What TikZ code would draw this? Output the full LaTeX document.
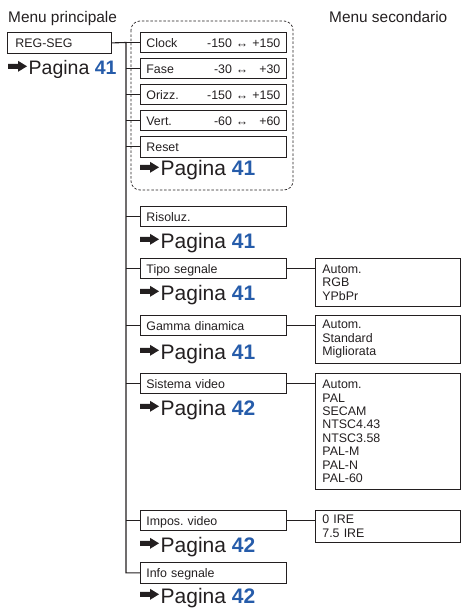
\documentclass[tikz,border=0pt]{standalone}
\usepackage{fontspec}
\setmainfont{Liberation Sans}
\usetikzlibrary{positioning}

\definecolor{ink}{RGB}{35,31,32}
\definecolor{pgblue}{RGB}{38,92,170}

% range of values on the right of a box
\newcommand{\rng}[2]{\hfill\makebox[24pt][r]{#1}\hspace{4pt}↔\hspace{4pt}\makebox[28pt][r]{#2}}
% arrow + page reference
\newcommand{\pagina}[5]{%
  \pic[ink] at (#2,#3-8.7) {pgarrow};
  \node[pg, font=\fontsize{#5}{#5}\selectfont] (#1) at (#2+20.5,#3) {Pagina \textcolor{pgblue}{\bfseries #4}};}

\begin{document}
\begin{tikzpicture}[x=1pt, y=-1pt, text=ink,
    font=\fontsize{12.4}{13.4}\selectfont,
    mbox/.style={draw=ink, line width=0.8pt, anchor=north west, minimum height=20,
      text width=134, inner xsep=6, inner ysep=0, align=left, text height=10, text depth=0},
    subbox/.style={draw=ink, line width=0.8pt, anchor=north west, text width=131,
      inner xsep=7, inner ysep=0, align=left},
    head/.style={font=\fontsize{15.4}{17}\selectfont, anchor=base west, inner sep=0},
    pg/.style={anchor=base west, inner sep=0},
    link/.style={line width=1.1pt, draw=ink},
    pgarrow/.pic={\fill (0,-2.5) -- (10,-2.5) -- (10,-5.5) -- (19,0) -- (10,5.5) -- (10,2.5) -- (0,2.5) -- cycle;}]
    \useasboundingbox (0,0) rectangle (460,609);

    \node[head] (mainh) at (8,22.5) {Menu principale};
    \node[head] (subh) at (329,22.5) {Menu secondario};

    % main menu
    \node[mbox, text width=88, inner xsep=8, minimum height=21] (regseg) at (7,32) {REG-SEG};
    \pagina{pgreg}{8}{75}{41}{19.5}

    % adjustments group
    \draw[ink, line width=0.7pt, dash pattern=on 2.5pt off 1.8pt, rounded corners=9] (131,21) rectangle (293,190);
    \node[mbox] (clock) at (140,32) {Clock\rng{-150}{+150}};
    \node[mbox] (fase) at (140,58) {Fase\rng{-30}{+30}};
    \node[mbox] (orizz) at (140,84) {Orizz.\rng{-150}{+150}};
    \node[mbox] (vert) at (140,110) {Vert.\rng{-60}{+60}};
    \node[mbox, minimum height=21] (reset) at (140,136) {Reset};
    \pagina{pgadj}{140}{176}{41}{21}

    \node[mbox] (risol) at (140,206) {Risoluz.};
    \pagina{pgris}{140}{248}{41}{21}

    \node[mbox] (tipo) at (140,258) {Tipo segnale};
    \pagina{pgtipo}{140}{300}{41}{21}

    \node[mbox] (gamma) at (140,315) {Gamma dinamica};
    \pagina{pggamma}{140}{359}{41}{21}

    \node[mbox] (sist) at (140,373) {Sistema video};
    \pagina{pgsist}{140}{415}{42}{21}

    \node[mbox] (impos) at (140,510) {Impos.\ video};
    \pagina{pgimpos}{140}{552}{42}{21}

    \node[mbox, minimum height=21] (info) at (140,562) {Info segnale};
    \pagina{pginfo}{140}{603}{42}{21}

    % sub menus
    \node[subbox, minimum height=48] (subtipo) at (315,258) {Autom.\\RGB\\YPbPr};
    \node[subbox, minimum height=48] (subgamma) at (315,315) {Autom.\\Standard\\Migliorata};
    \node[subbox, minimum height=116] (subsist) at (315,373) {Autom.\\PAL\\SECAM\\NTSC4.43\\NTSC3.58\\PAL-M\\PAL-N\\PAL-60};
    \node[subbox, minimum height=32] (subimpos) at (315,510) {0 IRE\\7.5 IRE};

    % tree
    \coordinate (tk) at (126,42.5);
    \draw[link] (regseg.east) -- (tk) |- (info.west);
    \foreach \b in {clock,fase,orizz,vert,reset,risol,tipo,gamma,sist,impos}
        \draw[link] (tk |- \b.west) -- (\b.west);
    \foreach \b/\s in {tipo/subtipo,gamma/subgamma,sist/subsist,impos/subimpos}
        \draw[link] (\b.east) -- (\b.east -| \s.west);
\end{tikzpicture}
\end{document}
